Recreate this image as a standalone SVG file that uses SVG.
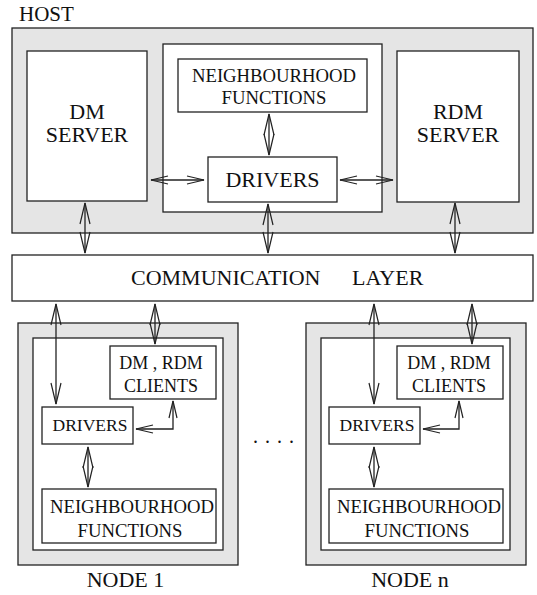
<svg xmlns="http://www.w3.org/2000/svg" width="537" height="595" viewBox="0 0 537 595">
<style>
.box{fill:#fff;stroke:#222;stroke-width:1.3}
.gray{fill:#e5e5e5;stroke:#222;stroke-width:1.3}
.c{stroke:#222;stroke-width:1.3;fill:none}
.vl{marker-start:url(#hl);marker-end:url(#hl)}
.vs{marker-start:url(#hs);marker-end:url(#hs)}
</style>
<defs>
<marker id="hl" markerUnits="userSpaceOnUse" viewBox="0 0 24 12" markerWidth="24" markerHeight="12" refX="22" refY="6" orient="auto-start-reverse">
<path d="M1,1 L22,6 L1,11" fill="none" stroke="#222" stroke-width="1.2"/>
</marker>
<marker id="hs" markerUnits="userSpaceOnUse" viewBox="0 0 20 10" markerWidth="20" markerHeight="10" refX="18" refY="5" orient="auto-start-reverse">
<path d="M1,1 L18,5 L1,9" fill="none" stroke="#222" stroke-width="1.2"/>
</marker>
</defs>

<g font-family="'Liberation Serif', 'DejaVu Serif', 'Times New Roman', serif" fill="#111">
<text x="19" y="21" font-size="21">HOST</text>

<g id="host">
<rect class="gray" x="12" y="28" width="521" height="205"/>
</g>
<g id="dm-server">
<rect class="box" x="27" y="51" width="120" height="150"/>
<text x="87" y="119" font-size="22" text-anchor="middle">DM</text>
<text x="87" y="142" font-size="22" text-anchor="middle">SERVER</text>
</g>
<g id="host-core">
<rect class="box" x="163" y="44" width="219" height="168"/>
</g>
<g id="host-neighbourhood">
<rect class="box" x="178" y="59" width="189" height="53"/>
<text x="274" y="82" font-size="18.7" text-anchor="middle">NEIGHBOURHOOD</text>
<text x="274" y="104" font-size="18.7" text-anchor="middle">FUNCTIONS</text>
</g>
<g id="host-drivers">
<rect class="box" x="208" y="157" width="129" height="45"/>
<text x="272.5" y="187" font-size="22" text-anchor="middle">DRIVERS</text>
</g>
<g id="rdm-server">
<rect class="box" x="397" y="51" width="122" height="151"/>
<text x="458" y="119" font-size="22" text-anchor="middle">RDM</text>
<text x="458" y="142" font-size="22" text-anchor="middle">SERVER</text>
</g>

<g id="comm-layer">
<rect class="box" x="12" y="255" width="521" height="46"/>
<text font-size="22" y="285"><tspan x="131">COMMUNICATION</tspan><tspan x="352">LAYER</tspan></text>
</g>

<g id="node1">
<rect class="gray" x="18" y="323" width="220" height="242"/>
<rect class="box" x="33" y="338" width="190" height="212"/>
<text x="125.5" y="587" font-size="22" text-anchor="middle">NODE 1</text>
</g>
<g id="node1-clients">
<rect class="box" x="110" y="346" width="106" height="53"/>
<text x="161" y="369" font-size="18" text-anchor="middle">DM , RDM</text>
<text x="161" y="392" font-size="18" text-anchor="middle">CLIENTS</text>
</g>
<g id="node1-drivers">
<rect class="box" x="42" y="407" width="91" height="37"/>
<text x="90" y="431" font-size="17.5" text-anchor="middle">DRIVERS</text>
</g>
<g id="node1-neighbourhood">
<rect class="box" x="42" y="489" width="174" height="54"/>
<text x="132" y="513" font-size="18.7" text-anchor="middle">NEIGHBOURHOOD</text>
<text x="130" y="537" font-size="18.7" text-anchor="middle">FUNCTIONS</text>
</g>

<g id="noden">
<rect class="gray" x="306" y="323" width="220" height="242"/>
<rect class="box" x="321" y="338" width="189" height="212"/>
<text x="410" y="587" font-size="22" text-anchor="middle">NODE n</text>
</g>
<g id="noden-clients">
<rect class="box" x="397" y="346" width="106" height="53"/>
<text x="449" y="369" font-size="18" text-anchor="middle">DM , RDM</text>
<text x="449" y="392" font-size="18" text-anchor="middle">CLIENTS</text>
</g>
<g id="noden-drivers">
<rect class="box" x="329" y="407" width="91" height="37"/>
<text x="377" y="431" font-size="17.5" text-anchor="middle">DRIVERS</text>
</g>
<g id="noden-neighbourhood">
<rect class="box" x="329" y="489" width="174" height="54"/>
<text x="419" y="513" font-size="18.7" text-anchor="middle">NEIGHBOURHOOD</text>
<text x="417" y="537" font-size="18.7" text-anchor="middle">FUNCTIONS</text>
</g>

<text font-size="20" y="443" x="253 265 277 289">....</text>
</g>

<g id="connectors">
<path class="c vs" d="M151,180 H204"/>
<path class="c vs" d="M340,180 H393"/>
<path class="c vl" d="M269,114 V155"/>
<path class="c vl" d="M85,203 V253"/>
<path class="c vl" d="M268,204 V253"/>
<path class="c vl" d="M455,203 V253"/>
<path class="c vl" d="M56,304 V404"/>
<path class="c vl" d="M155,304 V344"/>
<path class="c vl" d="M88,447 V487"/>
<path class="c vs" d="M173,401 V429 H136"/>
<path class="c vl" d="M374,304 V404"/>
<path class="c vl" d="M472,304 V344"/>
<path class="c vl" d="M374,447 V487"/>
<path class="c vs" d="M459,401 V429 H423"/>
</g>
</svg>
